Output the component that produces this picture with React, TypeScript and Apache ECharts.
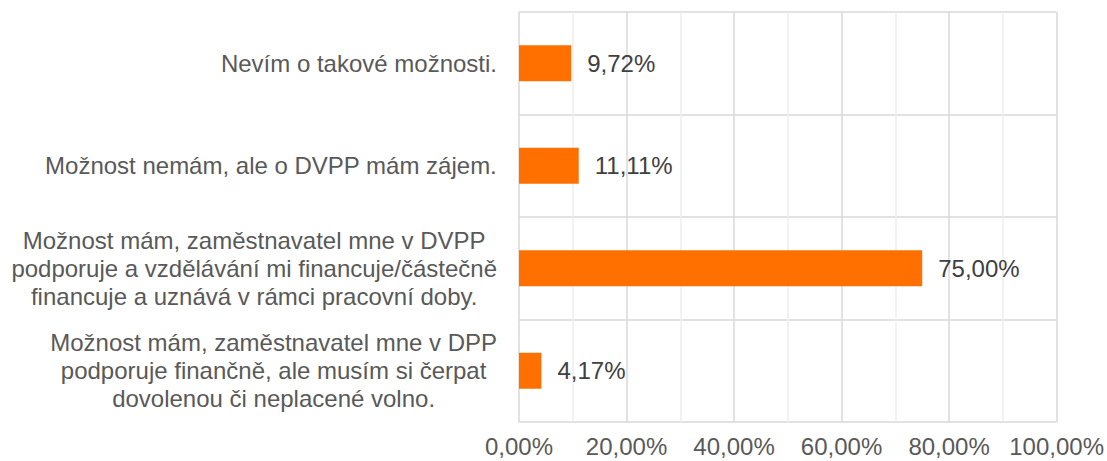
import React, { useEffect, useRef } from "react";
import * as echarts from "echarts";

const categories: string[] = [
  "Nevím o takové možnosti.",
  "Možnost nemám, ale o DVPP mám zájem.",
  "Možnost mám, zaměstnavatel mne v DVPP\npodporuje a vzdělávání mi financuje/částečně\nfinancuje a uznává v rámci pracovní doby.",
  "Možnost mám, zaměstnavatel mne v DPP\npodporuje finančně, ale musím si čerpat\ndovolenou či neplacené volno.",
];
const values: number[] = [9.72, 11.11, 75.0, 4.17];
const axisMin = 0;
const axisMax = 100;
const axisInterval = 20;

const FONT = "'Liberation Sans', Arial, sans-serif";
const FS = 24;
const fmt = (v: number) => v.toFixed(2).replace(".", ",") + "%";

export default function App() {
  const ref = useRef<HTMLDivElement>(null);
  useEffect(() => {
    if (!ref.current) return;
    const chart = echarts.init(ref.current, undefined, { renderer: "svg" });
    chart.setOption({
      animation: false,
      textStyle: { fontFamily: FONT },
      grid: { left: 519, right: 50, top: 12, bottom: 39, containLabel: false },
      xAxis: {
        type: "value",
        min: axisMin,
        max: axisMax,
        interval: axisInterval,
        axisLine: { show: false },
        axisTick: { show: false },
        minorTick: { show: false, splitNumber: 2 },
        splitLine: { show: true, lineStyle: { color: "#d9d9d9", width: 1.5 } },
        minorSplitLine: { show: true, lineStyle: { color: "#eeeeee", width: 1.5 } },
        axisLabel: {
          formatter: (v: number) => fmt(v),
          color: "#595959",
          fontSize: FS,
          fontFamily: FONT,
          margin: 12,
        },
      },
      yAxis: {
        type: "category",
        inverse: true,
        data: categories,
        axisLine: { show: false },
        axisTick: { show: false },
        splitLine: { show: true, lineStyle: { color: "#d9d9d9", width: 1.5 } },
        axisLabel: {
          margin: 22,
          color: "#595959",
          fontSize: FS,
          fontFamily: FONT,
          lineHeight: 28,
          formatter: (v: string) =>
            v
              .split("\n")
              .map((l) => `{c|${l}}`)
              .join("\n"),
          rich: {
            c: {
              align: "center",
              fontSize: FS,
              lineHeight: 28,
              color: "#595959",
              fontFamily: FONT,
            },
          },
        },
      },
      series: [
        {
          type: "bar",
          data: values,
          barWidth: 36,
          itemStyle: { color: "#FF7000" },
          label: {
            show: true,
            position: "right",
            distance: 16,
            formatter: (p: any) => fmt(p.value),
            color: "#404040",
            fontSize: FS,
            fontFamily: FONT,
          },
        },
      ],
    });
    return () => chart.dispose();
  }, []);
  return <div ref={ref} style={{ width: 1107, height: 461, position: "absolute", left: 0, top: 0 }} />;
}
